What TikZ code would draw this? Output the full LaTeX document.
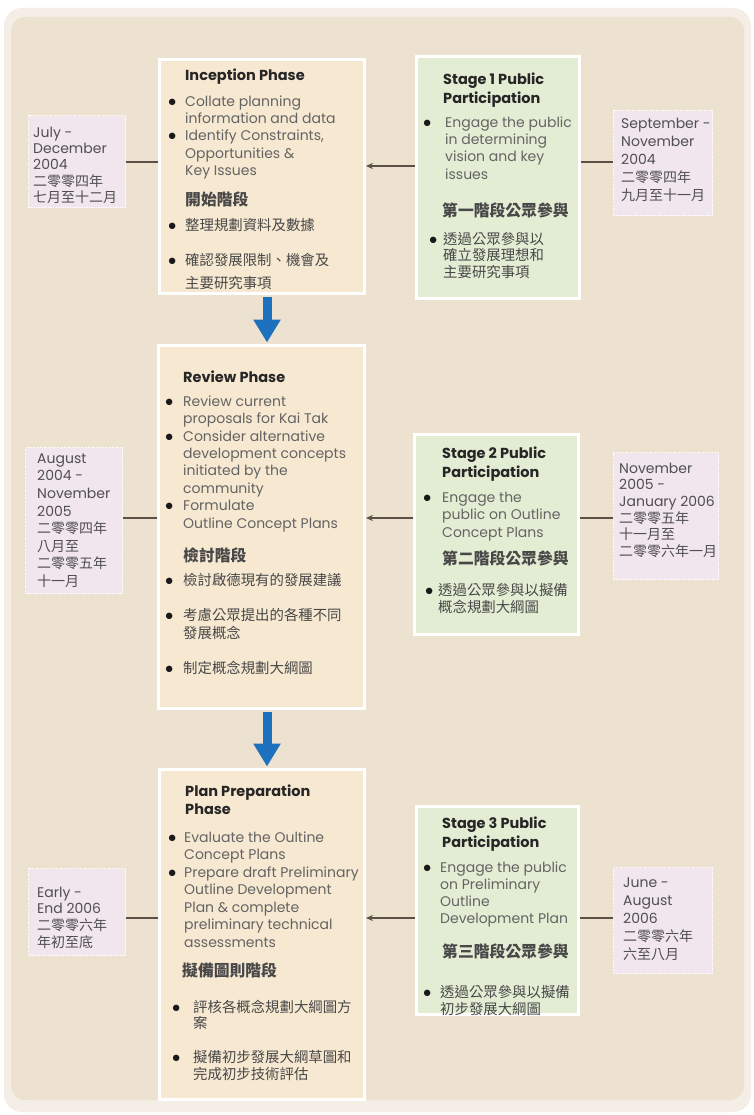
\documentclass[tikz,border=0pt]{standalone}
\usepackage{fontspec}
\setmainfont{Poppins}
\newfontfamily\cjk{Noto Sans CJK TC}
\usetikzlibrary{arrows.meta}

\definecolor{pagebeige}{RGB}{237,225,207}
\definecolor{rimcol}{RGB}{244,238,230}
\definecolor{phasefill}{RGB}{247,232,209}
\definecolor{stagefill}{RGB}{227,237,212}
\definecolor{datefill}{RGB}{241,229,238}
\definecolor{flowblue}{RGB}{30,114,189}
\definecolor{linecol}{RGB}{90,80,70}
\definecolor{titlecol}{RGB}{38,38,38}
\definecolor{bodycol}{RGB}{100,100,100}
\definecolor{cjkcol}{RGB}{72,72,72}
\definecolor{datecol}{RGB}{80,80,80}
\definecolor{dotcol}{RGB}{25,25,25}

% bullet with a fixed hanging width, and the matching indent
\newcommand\bl[1]{\makebox[#1][l]{\textcolor{dotcol}{\scalebox{1.15}{$\bullet$}}}}
\newcommand\ind[1]{\hspace*{#1}}
% fixes the top of a text block relative to its first baseline
\newcommand\ts{\rule{0pt}{13pt}}

\begin{document}
\begin{tikzpicture}[x=1pt,y=-1pt,
  phase/.style={draw=white, line width=3pt, fill=phasefill, anchor=north west, inner sep=0},
  stage/.style={draw=white, line width=3pt, fill=stagefill, anchor=north west, inner sep=0},
  datebox/.style={draw=white, densely dotted, line width=1.4pt, fill=datefill, anchor=north west, inner sep=0},
  ttl/.style={anchor=north west, inner sep=0, align=left, text=titlecol, font=\fontsize{14.5}{#1}\selectfont\bfseries},
  ttl/.default=19,
  body/.style={anchor=north west, inner sep=0, align=left, text=bodycol, font=\fontsize{14}{#1}\selectfont},
  body/.default=17.4,
  cjkt/.style={anchor=north west, inner sep=0, align=left, text=cjkcol, font=\cjk\bfseries\fontsize{15.8}{19}\selectfont},
  cjkb/.style={anchor=north west, inner sep=0, align=left, text=cjkcol, font=\cjk\fontsize{14.4}{#1}\selectfont},
  cjkb/.default=17,
  datetxt/.style={anchor=north west, inner sep=0, align=left, text=datecol, font=\fontsize{14}{#1}\selectfont},
  conn/.style={draw=linecol, line width=1.2pt},
  connarrow/.style={conn, -{Stealth[length=7pt,width=6pt]}},
  flowarrow/.style={draw=flowblue, line width=9pt, -{Triangle[width=26pt,length=23pt]}}
]
\useasboundingbox (0,0) rectangle (754,1115);
\fill[white] (0,0) rectangle (754,1115);

% panel
\fill[rimcol, rounded corners=18pt] (4,8) rectangle (751,1112);
\fill[pagebeige, rounded corners=14pt] (11,17) rectangle (744,1100);

% ---------- row 1 ----------
\node[phase, minimum width=205pt, minimum height=234pt] (inc) at (158,58) {};
\node[ttl] (incT) at (185,67) {\ts Inception Phase};
\node[body] (incE) at (168,93) {\ts\bl{17pt}Collate planning\\ \ind{17pt}information and data\\
  \bl{17pt}Identify Constraints,\\ \ind{17pt}Opportunities \&\\ \ind{17pt}Key Issues};
\node[cjkt] (incC) at (185,192) {\ts 開始階段};
\node[cjkb=23] (incB) at (168,217) {\ts\bl{17pt}整理規劃資料及數據\\[12pt]
  \bl{17pt}確認發展限制、機會及\\ \ind{17pt}主要研究事項};

\node[stage, minimum width=163pt, minimum height=242pt] (s1) at (415,55) {};
\node[ttl] (s1T) at (443,71) {\ts Stage 1 Public\\Participation};
\node[body] (s1E) at (423,114) {\ts\bl{22pt}Engage the public\\ \ind{22pt}in determining\\
  \ind{22pt}vision and key\\ \ind{22pt}issues};
\node[cjkt] (s1C) at (442,203) {\ts 第一階段公眾參與};
\node[cjkb=16.5] (s1B) at (429,231) {\ts\bl{14pt}透過公眾參與以\\ \ind{14pt}確立發展理想和\\ \ind{14pt}主要研究事項};

\node[datebox, minimum width=97pt, minimum height=92pt] (d1L) at (28,115) {};
\node[datetxt=16.3] (d1Lt) at (33,124) {\ts July -\\December\\2004\\{\cjk 二零零四年}\\{\cjk 七月至十二月}};

\node[datebox, minimum width=99pt, minimum height=105pt] (d1R) at (613,110) {};
\node[datetxt=18] (d1Rt) at (621,115) {\ts September -\\November\\2004\\{\cjk 二零零四年}\\{\cjk 九月至十一月}};

% ---------- row 2 ----------
\node[phase, minimum width=206pt, minimum height=363pt] (rev) at (157,344) {};
\node[ttl] (revT) at (183,369) {\ts Review Phase};
\node[body] (revE) at (165,393) {\ts\bl{18pt}Review current\\ \ind{18pt}proposals for Kai Tak\\
  \bl{18pt}Consider alternative\\ \ind{18pt}development concepts\\ \ind{18pt}initiated by the\\ \ind{18pt}community\\
  \bl{18pt}Formulate\\ \ind{18pt}Outline Concept Plans};
\node[cjkt] (revC) at (183,548) {\ts 檢討階段};
\node[cjkb=18] (revB) at (165,572) {\ts\bl{18pt}檢討啟德現有的發展建議\\[17pt]
  \bl{18pt}考慮公眾提出的各種不同\\ \ind{18pt}發展概念\\[17pt]
  \bl{18pt}制定概念規劃大綱圖};

\node[stage, minimum width=164pt, minimum height=200pt] (s2) at (413,433) {};
\node[ttl] (s2T) at (442,445) {\ts Stage 2 Public\\Participation};
\node[body=17.5] (s2E) at (423,489) {\ts\bl{19pt}Engage the\\ \ind{19pt}public on Outline\\ \ind{19pt}Concept Plans};
\node[cjkt] (s2C) at (442,551) {\ts 第二階段公眾參與};
\node[cjkb] (s2B) at (425,582) {\ts\bl{13pt}透過公眾參與以擬備\\ \ind{13pt}概念規劃大綱圖};

\node[datebox, minimum width=97pt, minimum height=146pt] (d2L) at (25,447) {};
\node[datetxt=17.6] (d2Lt) at (37,450) {\ts August\\2004 -\\November\\2005\\{\cjk 二零零四年}\\{\cjk 八月至}\\{\cjk 二零零五年}\\{\cjk 十一月}};

\node[datebox, minimum width=105pt, minimum height=127pt] (d2R) at (613,452) {};
\node[datetxt=16.6] (d2Rt) at (619,460) {\ts November\\2005 -\\January 2006\\{\cjk 二零零五年}\\{\cjk 十一月至}\\{\cjk 二零零六年一月}};

% ---------- row 3 ----------
\node[phase, minimum width=205pt, minimum height=330pt] (pln) at (158,768) {};
\node[ttl=18] (plnT) at (185,783) {\ts Plan Preparation\\Phase};
\node[body=17.5] (plnE) at (168,829) {\ts\bl{16pt}Evaluate the Oultine\\ \ind{16pt}Concept Plans\\
  \bl{16pt}Prepare draft Preliminary\\ \ind{16pt}Outline Development\\ \ind{16pt}Plan \& complete\\
  \ind{16pt}preliminary technical\\ \ind{16pt}assessments};
\node[cjkt] (plnC) at (182,963) {\ts 擬備圖則階段};
\node[cjkb=16.5] (plnB) at (172,999) {\ts\bl{21pt}評核各概念規劃大綱圖方\\ \ind{21pt}案\\[17.5pt]
  \bl{21pt}擬備初步發展大綱草圖和\\ \ind{21pt}完成初步技術評估};

\node[stage, minimum width=162pt, minimum height=208pt] (s3) at (415,805) {};
\node[ttl] (s3T) at (442,815) {\ts Stage 3 Public\\Participation};
\node[body=17] (s3E) at (423,859) {\ts\bl{17pt}Engage the public\\ \ind{17pt}on Preliminary\\ \ind{17pt}Outline\\ \ind{17pt}Development Plan};
\node[cjkt] (s3C) at (442,944) {\ts 第三階段公眾參與};
\node[cjkb] (s3B) at (423,984) {\ts\bl{17pt}透過公眾參與以擬備\\ \ind{17pt}初步發展大綱圖};

\node[datebox, minimum width=97pt, minimum height=87pt] (d3L) at (28,868) {};
\node[datetxt=16.7] (d3Lt) at (37,884) {\ts Early -\\End 2006\\{\cjk 二零零六年}\\{\cjk 年初至底}};

\node[datebox, minimum width=99pt, minimum height=106pt] (d3R) at (613,867) {};
\node[datetxt=18] (d3Rt) at (623,874) {\ts June -\\August\\2006\\{\cjk 二零零六年}\\{\cjk 六至八月}};

% ---------- connectors ----------
\coordinate (r1) at (0,162);
\coordinate (a1) at (0,166);
\coordinate (r2) at (0,518);
\coordinate (r3) at (0,918);
\coordinate (ax) at (267,0);

\draw[conn] (d1L.east |- r1) -- (inc.west |- r1);
\draw[connarrow] (s1.west |- a1) -- (inc.east |- a1);
\draw[conn] (s1.east |- r1) -- (d1R.west |- r1);

\draw[conn] (d2L.east |- r2) -- (rev.west |- r2);
\draw[connarrow] (s2.west |- r2) -- (rev.east |- r2);
\draw[conn] (s2.east |- r2) -- (d2R.west |- r2);

\draw[conn] (d3L.east |- r3) -- (pln.west |- r3);
\draw[connarrow] (s3.west |- r3) -- (pln.east |- r3);
\draw[conn] (s3.east |- r3) -- (d3R.west |- r3);

\draw[flowarrow] ([yshift=-1.5pt]inc.south -| ax) -- ([yshift=1.5pt]rev.north -| ax);
\draw[flowarrow] ([yshift=-1.5pt]rev.south -| ax) -- ([yshift=1.5pt]pln.north -| ax);
\end{tikzpicture}
\end{document}
